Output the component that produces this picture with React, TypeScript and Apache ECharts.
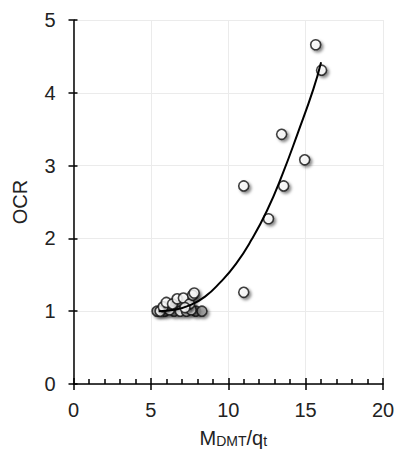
import React, { useEffect, useRef } from "react";
import * as echarts from "echarts";

const xTicks = [0, 5, 10, 15, 20];
const yTicks = [0, 1, 2, 3, 4, 5];

// white-filled points
const pointsX = [
  15.65, 16.03, 13.45, 14.94, 13.58, 11.0, 12.6, 11.0,
  5.6, 6.2, 6.9, 7.3, 7.6,
  5.8, 6.0, 6.4, 6.7, 7.1, 7.5, 7.7, 7.8, 7.2,
];
const pointsY = [
  4.66, 4.31, 3.43, 3.08, 2.72, 2.72, 2.27, 1.26,
  1.0, 1.02, 1.0, 1.0, 1.02,
  1.06, 1.12, 1.1, 1.17, 1.18, 1.1, 1.22, 1.25, 1.05,
];
// points that appear shaded (overlapping, bottom row)
const shadedX = [5.4, 5.9, 6.5, 7.9, 8.3];
const shadedY = [1.0, 1.0, 1.0, 1.0, 1.0];

const trendX = [5.5, 6.5, 7.5, 8.5, 9.5, 10.5, 11.5, 12.5, 13.5, 14.5, 15.5, 16.0];
const trendY = [1.0, 1.02, 1.08, 1.2, 1.4, 1.65, 1.98, 2.38, 2.88, 3.45, 4.05, 4.42];

export default function App() {
  const ref = useRef<HTMLDivElement>(null);
  useEffect(() => {
    if (!ref.current) return;
    const chart = echarts.init(ref.current, null, { renderer: "svg" });
    const font = "'Liberation Sans', Arial, sans-serif";
    const axisLine = { show: true, lineStyle: { color: "#000", width: 1.5 } };
    const marker = {
      borderColor: "#111",
      borderWidth: 1.6,
      shadowColor: "rgba(0,0,0,0.55)",
      shadowBlur: 3,
      shadowOffsetX: 2,
      shadowOffsetY: 2,
    };
    chart.setOption({
      animation: false,
      backgroundColor: "#fff",
      grid: { left: 73.5, right: 13, top: 20, bottom: 71, containLabel: false, outerBoundsMode: "none" },
      xAxis: [
        {
          type: "value",
          min: xTicks[0],
          max: xTicks[xTicks.length - 1],
          interval: 5,
          axisLine,
          axisTick: { show: true, inside: false, length: 6, lineStyle: { color: "#000", width: 1.5 } },
          axisLabel: { fontSize: 20, color: "#222", fontFamily: font, margin: 16 },
          splitLine: { show: true, lineStyle: { color: "#ebebeb", width: 1 } },
          name: "{a|M}{s|DMT}{a|/q}{s|t}",
          nameLocation: "middle",
          nameGap: 44,
          nameTextStyle: {
            padding: [0, 0, 0, 10],
            rich: {
              a: { fontSize: 20, color: "#222", fontFamily: font },
              s: { fontSize: 14, color: "#222", fontFamily: font, verticalAlign: "bottom", padding: [6, 0, 0, 0] },
            },
          },
        },
        {
          type: "value",
          min: xTicks[0],
          max: xTicks[xTicks.length - 1],
          interval: 5,
          position: "bottom",
          axisLine: { show: false },
          axisTick: { show: true, inside: true, length: 6, lineStyle: { color: "#000", width: 1.5 } },
          minorTick: { show: true, splitNumber: 5, length: 5, lineStyle: { color: "#000", width: 1.5 } },
          axisLabel: { show: false },
          splitLine: { show: false },
        },
      ],
      yAxis: [
        {
          type: "value",
          min: yTicks[0],
          max: yTicks[yTicks.length - 1],
          interval: 1,
          axisLine,
          axisTick: { show: true, inside: false, length: 5, lineStyle: { color: "#000", width: 1.5 } },
          axisLabel: { fontSize: 20, color: "#222", fontFamily: font, margin: 18 },
          splitLine: { show: true, lineStyle: { color: "#ebebeb", width: 1 } },
          name: "OCR",
          nameLocation: "middle",
          nameGap: 44,
          nameTextStyle: { fontSize: 20, color: "#222", fontFamily: font },
        },
        {
          type: "value",
          min: yTicks[0],
          max: yTicks[yTicks.length - 1],
          interval: 1,
          position: "left",
          axisLine: { show: false },
          axisTick: { show: true, inside: true, length: 4, lineStyle: { color: "#000", width: 1.5 } },
          axisLabel: { show: false },
          splitLine: { show: false },
        },
      ],
      series: [
        {
          type: "line",
          data: trendX.map((x, i) => [x, trendY[i]]),
          smooth: true,
          showSymbol: false,
          lineStyle: { color: "#000", width: 2 },
          z: 3,
        },
        {
          type: "scatter",
          data: shadedX.map((x, i) => [x, shadedY[i]]),
          symbol: "circle",
          symbolSize: 10,
          itemStyle: { ...marker, color: "#9a9a9a" },
          z: 2,
        },
        {
          type: "scatter",
          data: pointsX.map((x, i) => [x, pointsY[i]]),
          symbol: "circle",
          symbolSize: 10,
          itemStyle: { ...marker, color: "#fff" },
          z: 2,
        },
      ],
    });
    return () => chart.dispose();
  }, []);
  return <div ref={ref} style={{ width: 396, height: 455, position: "absolute", left: 0, top: 0 }} />;
}
